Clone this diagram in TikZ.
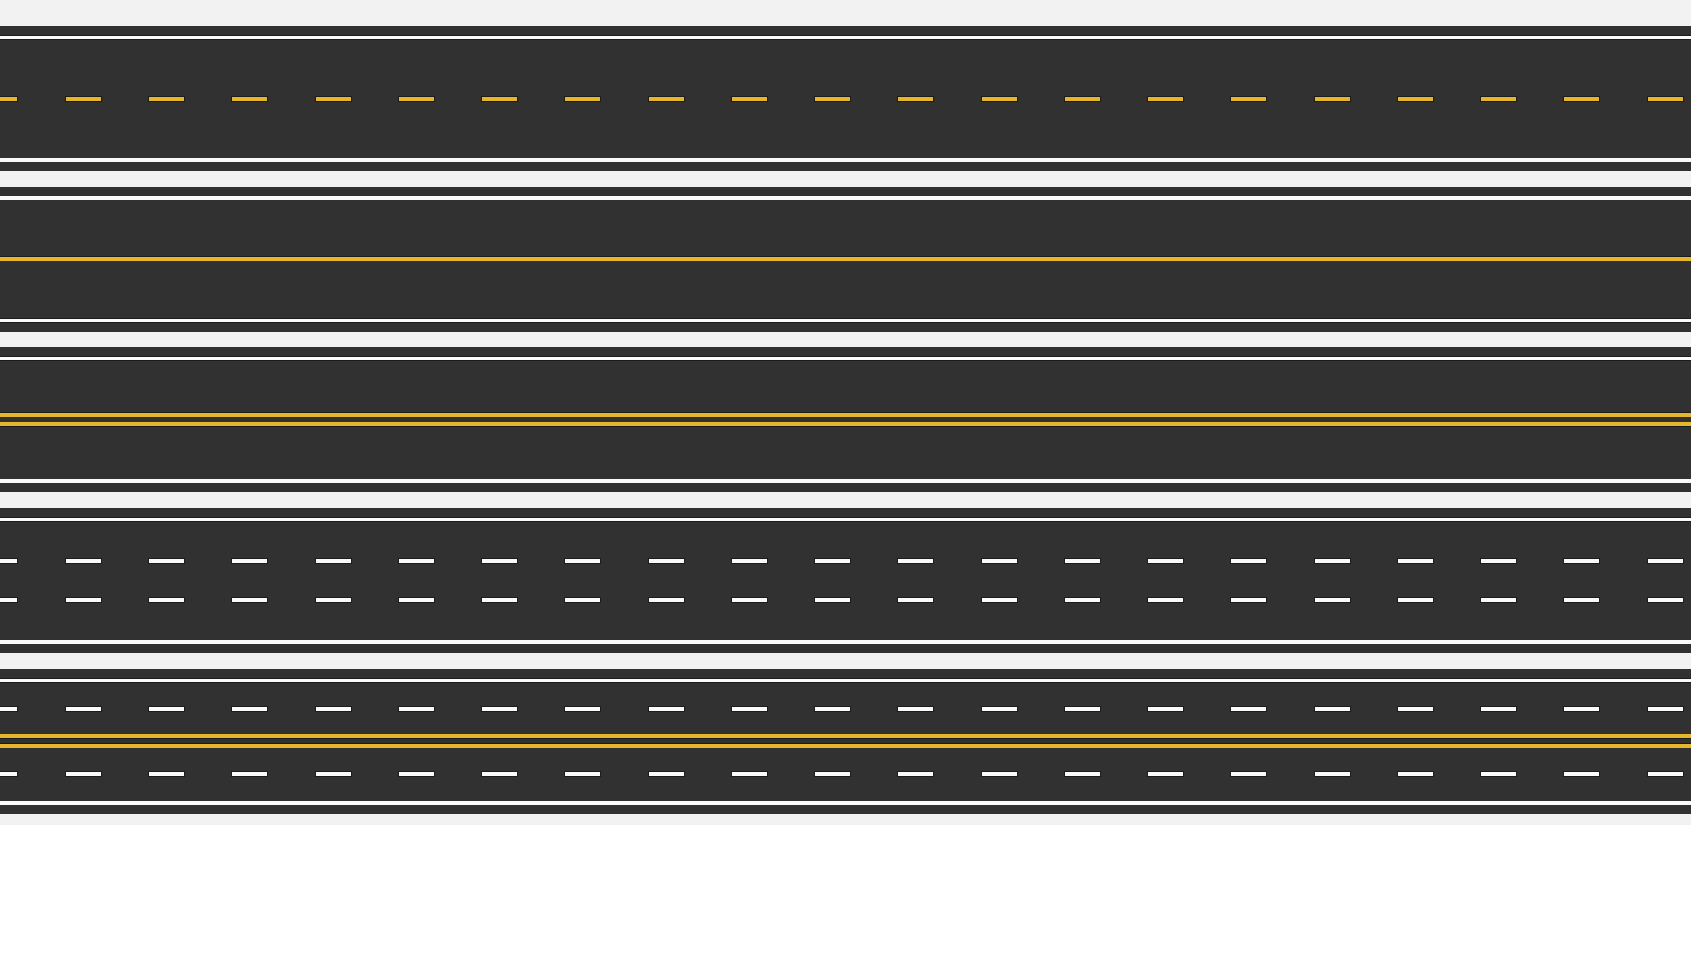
\documentclass[tikz,border=0pt]{standalone}
\usepackage{tikz}
\usetikzlibrary{calc}
\definecolor{cAsphalt}{RGB}{49, 49, 49}
\definecolor{cVerge}{RGB}{242, 242, 242}
\definecolor{cYellow}{RGB}{229, 182, 42}
\definecolor{cPaint}{RGB}{250, 250, 250}
\definecolor{cRim}{RGB}{28, 28, 28}
\tikzset{
    x=1pt, y=-1pt,
    asphalt/.style={
        fill=cAsphalt
    },
    edgeLine/.style={
        draw=cPaint, line width=3.5pt,
        preaction={draw=cRim, line width=4.6pt}
    },
    centreLine/.style={
        draw=cYellow, line width=4pt,
        preaction={draw=cRim, line width=5pt}
    },
    laneDash/.style={
        fill=cPaint, draw=cRim, line width=0.5pt
    },
    centreDash/.style={
        fill=cYellow, draw=cRim, line width=0.5pt
    }
}
\newcommand{\roadW}{1691}
\newcommand{\dashLen}{36}
\newcommand{\dashGap}{83.26}
% asphalt strip with its two white edge lines, #1 = top edge
\newcommand{\drawRoad}[1]{%
    \fill[asphalt] (0,#1) rectangle (\roadW,#1+145);
    \draw[edgeLine] (0,#1+11.5) -- (\roadW,#1+11.5);
    \draw[edgeLine] (0,#1+134) -- (\roadW,#1+134);
}
% one row of dashes, #1 = style, #2 = centre height
\newcommand{\dashRow}[2]{%
    \foreach \k in {0,...,20}
        \path[#1] ({-18.26+\dashGap*\k},#2-2.3) rectangle ++(\dashLen,4.6);
}

\begin{document}
\begin{tikzpicture}
    \useasboundingbox (0,0) rectangle (1691,969);
    \fill[white] (0,0) rectangle (1691,969);
    \fill[cVerge] (0,0) rectangle (1691,825);

    % road 1: broken yellow centre
    \drawRoad{26}
    \dashRow{centreDash}{98.5}

    % road 2: solid yellow centre
    \drawRoad{186.5}
    \draw[centreLine] (0,258.75) -- (\roadW,258.75);

    % road 3: double yellow centre
    \drawRoad{347}
    \draw[centreLine] (0,414.6) -- (\roadW,414.6);
    \draw[centreLine] (0,424.2) -- (\roadW,424.2);

    % road 4: three lanes, white dashes
    \drawRoad{508}
    \dashRow{laneDash}{560.5}
    \dashRow{laneDash}{600}

    % road 5: four lanes, double yellow in the middle
    \drawRoad{669}
    \dashRow{laneDash}{709}
    \draw[centreLine] (0,736.2) -- (\roadW,736.2);
    \draw[centreLine] (0,745.6) -- (\roadW,745.6);
    \dashRow{laneDash}{774}
\end{tikzpicture}
\end{document}
